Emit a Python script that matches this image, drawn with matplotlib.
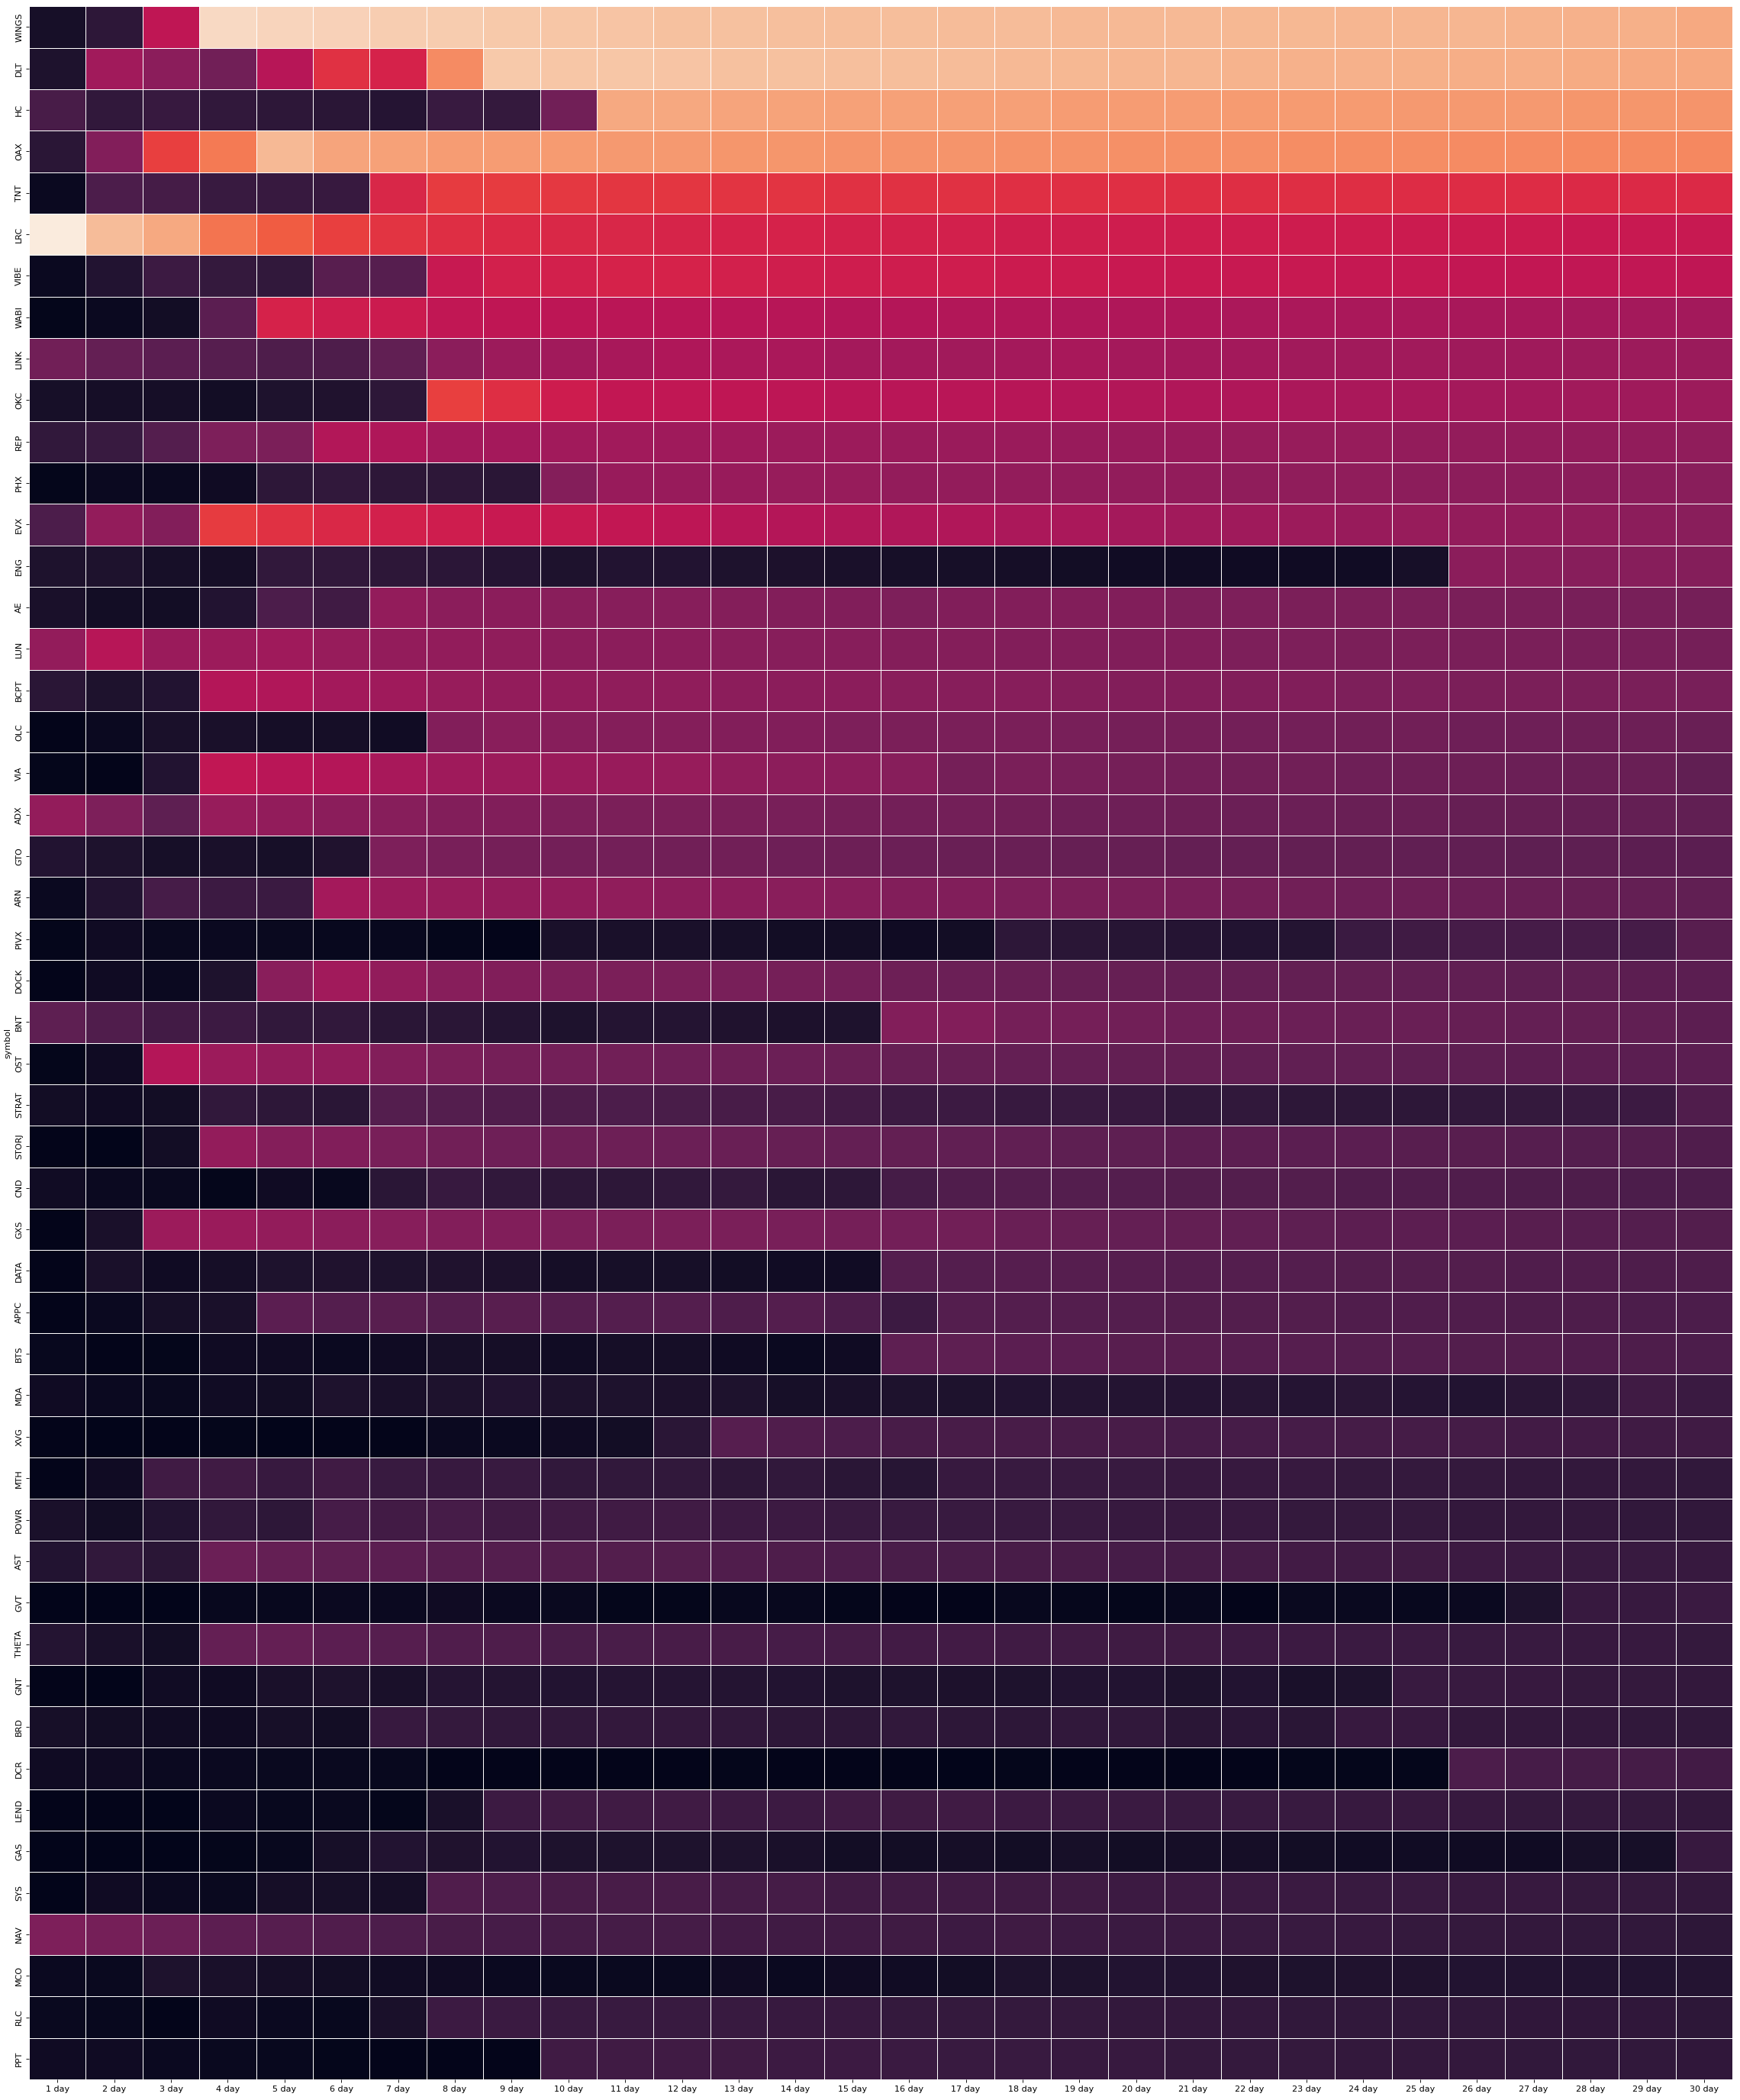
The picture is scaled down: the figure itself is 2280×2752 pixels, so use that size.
import numpy as np
import pandas as pd
import matplotlib
matplotlib.use("Agg")
import matplotlib.pyplot as plt
import seaborn as sns

# row labels (symbols) and column labels (holding period)
symbols = ["WINGS", "DLT", "HC", "OAX", "TNT", "LRC", "VIBE", "WABI", "LINK", "OKC",
           "REP", "PHX", "EVX", "ENG", "AE", "LUN", "BCPT", "OLC", "VIA", "ADX",
           "GTO", "ARN", "PIVX", "DOCK", "BNT", "OST", "STRAT", "STORJ", "CND", "GXS",
           "DATA", "APPC", "BTS", "MDA", "XVG", "MTH", "POWR", "AST", "GVT", "THETA",
           "GNT", "BRD", "DCR", "LEND", "GAS", "SYS", "NAV", "MCO", "RLC", "PPT"]
days = [f"{d} day" for d in range(1, 31)]

# values (0 = darkest, 100 = lightest)
WINGS = [6,12,47,95,94,93,92,91.5,91,90,89.5,89,89,88.5,88,88,87.5,87.5,87,87,87,86.5,86.5,86,86,86,85.5,85,84.5,83]
DLT = [8,40,35,29,45,57,53,76,91,90,90,89.5,89,89,88.5,88,87.5,87,86.5,86,86,85.5,85,85,84.5,84,84,83.5,83,82.5]
HC = [19,13,14.5,13,12,11,10,15,14,29,83,82.5,82,81.5,81,81,80.5,80.5,80,80,80,79.5,79.5,79.5,79,79,79,78.5,78.5,78]
OAX = [11,33,60,72,87,82,81,80,80,79.5,79,79,78.5,78.5,78,78,78,77.5,77.5,77,77,77,76.5,76.5,76.5,76,76,75.5,75.5,75]
TNT = [3,20,18,15,14.5,14.5,54,59,59,58.5,58,58,57.5,57.5,57,57,57,56.5,56.5,56.5,56,56,56,56,55.5,55.5,55.5,55,55,55]
LRC = [100,87.5,83,71,66,60,57.5,56,55,54.5,54,53.5,53,53,52.5,52.5,52,51.5,51.5,51,51,51,50.5,50.5,50,50,50,49.5,49.5,49]
VIBE = [3,9,16,14,13,23,22.5,49,52,52,53,53,52,51.5,51,51,51,50,50,49.5,49.5,49,49,48.5,48.5,48,48,47.5,47.5,47]
WABI = [1,3,5,23.5,53,51,50,47.5,47,46.5,46,46,45.5,45,44.5,44.5,44,44,43.5,43,43,42.5,42.5,42,42,41.5,41.5,41,41,40.5]
LINK = [29,26,23.5,22.5,20.5,20.5,25,35,39,40,41.5,43,42.5,42,41,40.5,40,41,41.5,41,40.5,40.5,40,40,40,39.5,39.5,39,39,38.5]
OKC = [6,5.5,5.5,5,8,8.5,12,60,56,50.5,48,47.5,47,46.5,46,45.5,45.5,45,44.5,44,43.5,43,42.5,42,41.5,41,40.5,40,39.5,39]
REP = [13,15,22,32,31.5,44,43,41,41,40,40,39.5,39.5,39,39,38.5,38.5,38.5,38,38,38,37.5,37.5,37.5,37,37,37,36.5,36.5,36]
PHX = [1,3,3,4,12,13,12,12,11,33.5,38,38,38,37.5,37.5,37,37,37,36.5,36.5,36.5,36,36,36,35.5,35.5,35.5,35,35,34.5]
EVX = [20,37,33,59,57,54.5,52,51,49.5,49,48,46.5,45,44.5,44,43.5,43.5,42.5,42,41,40,39.5,39,38,37.5,37,36.5,36,35.5,34.5]
ENG = [8,8,6,5.5,13,13,12,11.5,10,8,9,9,8,7.5,7,6,6,5.5,5,4.5,4.5,4,4,4.5,6,35,34.5,34,34,33.5]
AE = [7,5,5,9,20,17,37,35,35,34.5,34,34,33.5,33,32.5,32,32.5,33,33,32.5,32,32,31.5,31.5,31,31,31,30.5,30.5,30]
LUN = [37,45,38.5,39,39.5,37.5,37,36.5,36,35.5,35,35,34.5,34,34,33.5,33.5,33,33,32.5,32.5,32,32,31.5,31.5,31,31,30.5,30.5,30]
BCPT = [11,8,9,44.5,43.5,40.5,39.5,37.5,37,36.5,36,36,35.5,35,35,34.5,34,34,33.5,33,33,32.5,32.5,32,32,31.5,31.5,31,31,30.5]
OLC = [0.5,3,7,7,5.5,5.5,4.5,33,34.5,34,33.5,33.5,33,32.5,32,31.5,31,31,30.5,30,30,29.5,29.5,29,29,28.5,28.5,28,28,27]
VIA = [1,0.5,9,47.5,45.5,44.5,41.5,39.5,39,38.5,38,37.5,36,35.5,35,34,30,31,30.5,30,29.5,29,29,28.5,28,28,27.5,27,27,25]
ADX = [37,32,24.5,37.5,36.5,35,34,33,32.5,32,31.5,31.5,31,30.5,30,29.5,29.5,29,28.5,28.5,28,27.5,27.5,27,27,26.5,26.5,26,26,25]
GTO = [9,8,6,7,6,8.5,32,30.5,30,29.5,29.5,29,29,28.5,28,27.5,27,27,26.5,26.5,26,26,25.5,25.5,25,25,24.5,24.5,24,23.5]
ARN = [3,9,18.5,16,15.5,41,38.5,37.5,37,36.5,36,35.5,35,34.5,34,33,32.5,32,31.5,31,30.5,30,29,28.5,28,27.5,27,26.5,26,25]
PIVX = [1,4,2.5,3,2.5,2,2,1,0.5,7,7,7,6,5,5,4,5,12,11,10.5,10,9,9.5,15.5,17,18.5,18.5,18.5,18.5,23]
DOCK = [0.5,4,3,8,34.5,40,36.5,34,32.5,32,31.5,31,30.5,30,29.5,28,27.5,27,26.5,26.5,26,26,25.5,25.5,25,25,24.5,24.5,24,23.5]
BNT = [24.5,21,17.5,16,13,13,11,11,9.5,8,9.5,9.5,8.5,7.5,8,33,33,30,30,29,28.5,28,27.5,27,27,26.5,26,25.5,25,24]
OST = [1,4,44.5,39,37,36.5,33,31.5,30,29.5,29,28.5,28,27.5,27,26.5,26.5,26,26,25.5,25.5,25,25,25,24.5,24.5,24,24,23.5,23.5]
STRAT = [5,4,5,13,12,11,22,22,21,20.5,20,19.5,19,19,17.5,16,16,14.5,15,14.5,13,13,12,12,12,13,14,15,16,21]
STORJ = [0.5,0,5,37,33.5,32.5,30.5,29,28.5,28,28,27.5,27,26.5,26,25.5,25,25,24.5,24.5,24,24,23.5,23.5,23,23,22.5,22,22,21]
CND = [4.5,3,2.5,1,4,2,11,14.5,13,12,12,13,14,11,12,18,21,22,22,22,21.5,21.5,21.5,21,21,21,20.5,20.5,20,20]
GXS = [0.5,7,39,38.5,37,35,34,33,32.5,32,31.5,31.5,31,30.5,30,29.5,29,27,26.5,26,25.5,25,24.5,24,24,23.5,23,22.5,22,21.5]
DATA = [0.5,7,4,5.5,8,8.5,8,8.5,7.5,5.5,6,6,5,4.5,4.5,22,22,22.5,22.5,22.5,22,22,22,21.5,21.5,21.5,21,21,20.5,20.5]
APPC = [0.5,3,6,7,23.5,22,23,22,23,22,22,22,20.5,22,20,16,22,22,22,22,21.5,21.5,21.5,21,21,21,20.5,20.5,20,20]
BTS = [2,0.5,1,4,4,3,4,6,5.5,4.5,5.5,5.5,4,3,4,24.5,24.5,23.5,23.5,23,23,22.5,22.5,22,22,21.5,21.5,21,20.5,20]
MDA = [4,3,2.5,4.5,5,8,7,8,9,8,8,7.5,8,6,7,8,8,9,9.5,9.5,10,10.5,10,11,10,9,11,13,17,15.5]
XVG = [0.5,0,0.5,1,0,0.5,0.5,3,3,4,5,11,22.5,21,20,19,19,19,19,19,18.5,18.5,18.5,18,18,18,17.5,17.5,17,17]
MTH = [0.5,4,17,17,14.5,17,15,14.5,15,13,13,13,12,13,11,10.5,14.5,15,15,15,14.5,14.5,14.5,14,14,14,13.5,13.5,13.5,13]
POWR = [7,5,9,13,12,18.5,17.5,18.5,17,17,17,17,16,16,15,15,15,15,15,14.5,14.5,14.5,14,14,14,13.5,13.5,13.5,13,13]
AST = [9,13,11,27.5,26,24.5,23.5,22.5,22,21.5,21.5,21.5,21,20.5,20,19.5,19.5,19,19,18.5,18,18,17.5,17,16.5,16,15.5,15,15,14.5]
GVT = [0,0,0,2,2,3,3,4,3,2.5,1,1,2,2,1,0.5,0.5,2,1.5,1,2,0.5,2.5,2.5,2,3,8,14.5,14.5,15.5]
THETA = [9.5,7,5,26,26,23.5,22.5,21,20.5,19.5,19.5,19,19,18.5,18,17.5,17.5,17,17,16.5,16.5,16,16,15.5,15.5,15,15,14.5,14.5,14]
GNT = [0.5,0,4.5,4,7,8,7,10,9.5,9,10,10,9.5,9,8,8,7.5,8,9,9,8,9,7,8,15,15,14.5,14,14,13.5]
BRD = [6,5,4.5,4,6,5,14.5,14,13,13,13.5,13.5,13,12,12,13,12,12,13,13,11,11.5,11,14.5,14.5,13.5,13.5,13.5,13,13]
DCR = [4,4,3,3,2.5,2.5,2,0.5,0.5,0.5,0.5,0.5,1,0.5,0.5,0.5,0,1,0.5,0.5,0.5,0.5,1,1,1,20,18.5,18,18,17.5]
LEND = [0.5,0.5,0,3,2,2.5,1,7,16,17,17,17,16,16,17,16.5,17,16,15.5,15.5,15,15,15,14.5,14.5,14.5,14,14,14,13.5]
GAS = [0,0,0,1,2,6,9,8.5,9,8,8,8,8,7,5,5,5.5,5,6,5,5.5,5.5,5,4.5,4.5,4,4,6,6,14.5]
SYS = [0,4,3,2.5,5.5,6,5.5,21,20,19,19,19,18,18,17,17,17,16.5,16.5,16,16,15.5,15.5,15,15,14.5,14.5,14,14,13.5]
NAV = [32,30,27.5,24,22.5,21,20,19,18.5,18,18,18,17.5,17,17,16.5,16,16.5,16,15.5,15.5,15,15,14.5,14,14,13.5,13,13,12]
MCO = [3,2.5,8,7,5.5,5,4.5,4,3,2.5,2.5,2.5,4,3,4,4.5,5,8,8,9,9,8.5,8,8.5,8.5,9,9,9,9,9.5]
RLC = [2.5,2,0.5,4,3,2,7,16,15.5,15,15,15,15,14.5,14.5,14,14,14,14,13.5,13.5,13.5,13,13,13,13,12.5,12.5,12.5,12]
PPT = [4,4,3,2.5,2,1,0.5,0.5,0.5,17,17,17,16.5,16,16,15.5,15,15,14.5,14.5,14,14,14,13.5,13.5,13.5,13,13,13,12.5]

rows = [WINGS, DLT, HC, OAX, TNT, LRC, VIBE, WABI, LINK, OKC,
        REP, PHX, EVX, ENG, AE, LUN, BCPT, OLC, VIA, ADX,
        GTO, ARN, PIVX, DOCK, BNT, OST, STRAT, STORJ, CND, GXS,
        DATA, APPC, BTS, MDA, XVG, MTH, POWR, AST, GVT, THETA,
        GNT, BRD, DCR, LEND, GAS, SYS, NAV, MCO, RLC, PPT]

df = pd.DataFrame(rows, index=pd.Index(symbols, name="symbol"), columns=days)

fig, ax = plt.subplots(figsize=(28.5, 34.4), dpi=80)
sns.heatmap(df, ax=ax, cmap="rocket", vmin=0, vmax=100, cbar=False,
            linewidths=0.8, linecolor="white")
ax.set_yticklabels(symbols, rotation=90, va="center")
ax.set_xticklabels(days, rotation=0)
fig.subplots_adjust(left=0.0167, right=0.9956, top=0.997, bottom=0.0098)
fig.savefig("out.png", dpi=80)
